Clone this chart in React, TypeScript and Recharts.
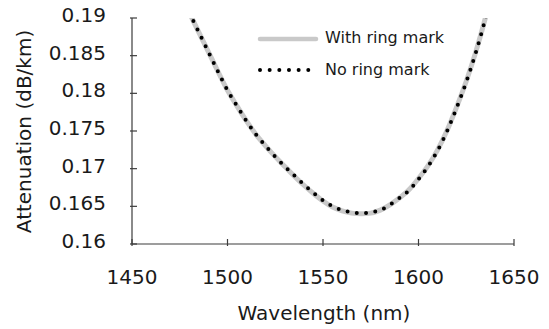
import React from 'react';
import { LineChart, Line, XAxis, YAxis, Legend } from 'recharts';

const wavelengths = [1480, 1485, 1490, 1495, 1500, 1505, 1510, 1515, 1520, 1525, 1530, 1535, 1540, 1545, 1550, 1555, 1560, 1565, 1570, 1575, 1580, 1585, 1590, 1595, 1600, 1605, 1610, 1615, 1620, 1625, 1630, 1635, 1640];
const withRingMark = [0.1907, 0.1881, 0.1855, 0.1829, 0.1804, 0.1783, 0.1763, 0.1745, 0.1730, 0.1716, 0.1703, 0.1690, 0.1678, 0.1667, 0.1657, 0.1649, 0.1644, 0.1641, 0.1640, 0.1641, 0.1645, 0.1652, 0.1661, 0.1672, 0.1687, 0.1704, 0.1725, 0.1751, 0.1782, 0.1816, 0.1855, 0.1900, 0.1951];
const noRingMark = [0.1907, 0.1881, 0.1855, 0.1829, 0.1804, 0.1783, 0.1763, 0.1745, 0.1730, 0.1716, 0.1703, 0.1691, 0.1679, 0.1668, 0.1658, 0.1650, 0.1645, 0.1642, 0.1641, 0.1642, 0.1645, 0.1652, 0.1661, 0.1671, 0.1686, 0.1703, 0.1724, 0.1750, 0.1781, 0.1815, 0.1854, 0.1899, 0.1950];
const xTicks = [1450, 1500, 1550, 1600, 1650];
const yTicks = [0.16, 0.165, 0.17, 0.175, 0.18, 0.185, 0.19];
const yTickLabels = ['0.16', '0.165', '0.17', '0.175', '0.18', '0.185', '0.19'];
const seriesNames = ['With ring mark', 'No ring mark'];

const data = wavelengths.map((w, i) => ({ w, withRing: withRingMark[i], noRing: noRingMark[i] }));

const FONT = '"DejaVu Sans", Verdana, sans-serif';
const AXIS = '#3c3c3c';
const GREY = '#c9c9c9';
const TEXT = '#1a1a1a';

const XTick = (props: any) => {
  const { x, y, payload } = props;
  return (
    <g>
      <line x1={x} x2={x} y1={y} y2={y - 7} stroke={AXIS} strokeWidth={1.2} />
      <text x={x} y={y + 38} textAnchor="middle" fontSize={20} fontFamily={FONT} fill={TEXT}>
        {payload.value}
      </text>
    </g>
  );
};

const YTick = (props: any) => {
  const { x, y, payload, index } = props;
  return (
    <g>
      <line x1={x} x2={x + 7} y1={y} y2={y} stroke={AXIS} strokeWidth={1.2} />
      <text x={x - 24} y={y + 4} textAnchor="end" fontSize={20} fontFamily={FONT} fill={TEXT}>
        {yTickLabels[yTicks.indexOf(payload.value)] ?? yTickLabels[index]}
      </text>
    </g>
  );
};

const renderLegend = () => (
  <svg width={220} height={60} style={{ display: 'block' }}>
    <line x1={5} x2={61} y1={14} y2={14} stroke={GREY} strokeWidth={4.5} strokeLinecap="round" />
    <text x={70} y={17.5} fontSize={16} fontFamily={FONT} fill={TEXT}>{seriesNames[0]}</text>
    <line x1={5} x2={54} y1={45} y2={45} stroke="#000" strokeWidth={4} strokeLinecap="round" strokeDasharray="0 9.66" />
    <text x={70} y={49.5} fontSize={16} fontFamily={FONT} fill={TEXT}>{seriesNames[1]}</text>
  </svg>
);

export default function App() {
  return (
    <div style={{ position: 'absolute', left: 0, top: 0, width: 549, height: 329, background: '#fff' }}>
      <LineChart width={549} height={329} data={data} margin={{ top: 18, right: 35, bottom: 0, left: 0 }}>
        <XAxis
          dataKey="w"
          type="number"
          domain={[1450, 1650]}
          ticks={xTicks}
          interval={0}
          height={85}
          tickSize={0}
          tickLine={false}
          tick={<XTick />}
          stroke={AXIS}
          strokeWidth={1.2}
          label={{
            content: (p: any) => {
              const vb = p.viewBox;
              return (
                <text x={vb.x + vb.width / 2 + 1} y={320} textAnchor="middle" fontSize={20} fontFamily={FONT} fill={TEXT}>
                  Wavelength (nm)
                </text>
              );
            },
          }}
        />
        <YAxis
          type="number"
          domain={[0.16, 0.19]}
          ticks={yTicks}
          interval={0}
          allowDataOverflow
          width={132}
          tickSize={0}
          tickLine={false}
          tick={<YTick />}
          stroke={AXIS}
          strokeWidth={1.2}
          label={{
            content: (p: any) => {
              const vb = p.viewBox;
              const cy = vb.y + vb.height / 2 + 0.5;
              return (
                <text x={30.5} y={cy} transform={`rotate(-90 30.5 ${cy})`} textAnchor="middle" fontSize={20} fontFamily={FONT} fill={TEXT}>
                  Attenuation (dB/km)
                </text>
              );
            },
          }}
        />
        <Legend
          layout="vertical"
          align="center"
          verticalAlign="middle"
          wrapperStyle={{ left: 255, top: 25, width: 220, height: 60 }}
          content={renderLegend}
        />
        <Line
          type="monotone"
          dataKey="withRing"
          name={seriesNames[0]}
          stroke={GREY}
          strokeWidth={5}
          dot={false}
          activeDot={false}
          isAnimationActive={false}
        />
        <Line
          type="monotone"
          dataKey="noRing"
          name={seriesNames[1]}
          stroke="#000"
          strokeWidth={4}
          strokeLinecap="round"
          strokeDasharray="0 9.3"
          dot={false}
          activeDot={false}
          isAnimationActive={false}
        />
      </LineChart>
    </div>
  );
}
